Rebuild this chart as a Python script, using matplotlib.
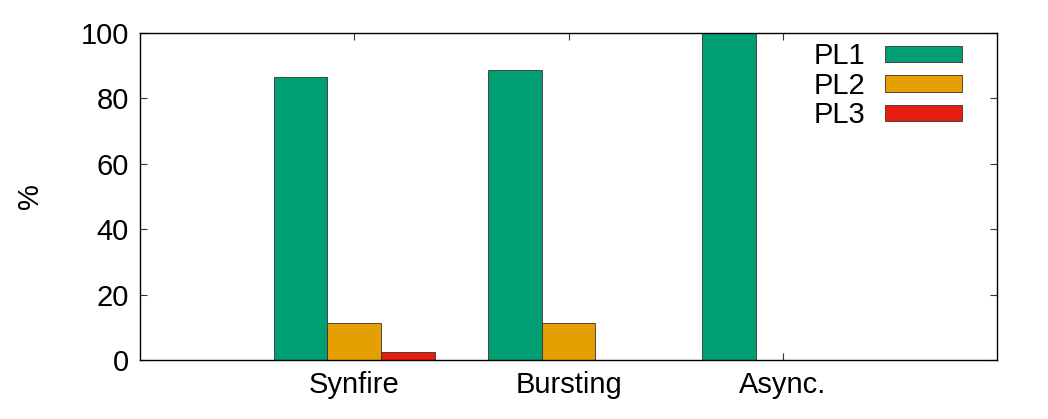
import matplotlib
matplotlib.use("Agg")
import matplotlib.pyplot as plt
import numpy as np

categories = ["Synfire", "Bursting", "Async."]
series_names = ["PL1", "PL2", "PL3"]
pl1 = [86.5, 88.8, 100.0]
pl2 = [11.3, 11.2, 0.0]
pl3 = [2.3, 0.0, 0.0]
colors = ["#009e73", "#e69f00", "#e51e10"]

plt.rcParams['font.family'] = ['Liberation Sans', 'DejaVu Sans']

fig = plt.figure(figsize=(10.48, 4.19), dpi=100)
ax = fig.add_axes([140/1048, 59/419, 857/1048, 327/419])

x = np.arange(len(categories))
w = 0.25
for i, (vals, name, c) in enumerate(zip([pl1, pl2, pl3], series_names, colors)):
    ax.bar(x + (i - 1) * w, vals, width=w, color=c, edgecolor="#333333",
           linewidth=0.6, label=name, zorder=2)

ax.set_xlim(-1, 3)
ax.set_ylim(0, 100)
ax.set_xticks(x)
ax.set_xticklabels(categories)
ax.set_yticks([0, 20, 40, 60, 80, 100])
ax.tick_params(axis='both', direction='in', length=5, width=0.8,
               labelsize=21, top=True, right=True, pad=8, color="#333333")
for s in ax.spines.values():
    s.set_linewidth(1.0)
    s.set_zorder(3)
ax.set_ylabel("%", fontsize=21)
ax.yaxis.set_label_coords(-0.112, 0.5)

leg = ax.legend(loc="upper right", frameon=False, markerfirst=False,
                fontsize=21, handlelength=2.64, handleheight=0.5,
                labelspacing=0.05, handletextpad=0.68,
                bbox_to_anchor=(0.983, 1.034), borderaxespad=0.3)

fig.savefig("out.png", dpi=100)
